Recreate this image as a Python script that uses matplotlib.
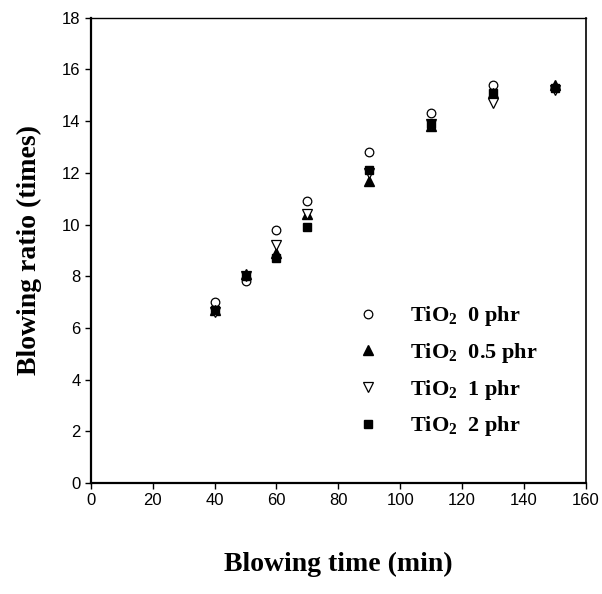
import matplotlib
matplotlib.use('Agg')
import matplotlib.pyplot as plt

# blowing time (min)
time = [40, 50, 60, 70, 90, 110, 130, 150]

# blowing ratio (times) for each TiO2 loading
tio2_0 = [7.0, 7.8, 9.8, 10.9, 12.8, 14.3, 15.4, 15.3]
tio2_05 = [6.7, 8.1, 8.9, 10.4, 11.7, 13.8, 15.1, 15.4]
tio2_1 = [6.6, 8.0, 9.2, 10.4, 12.0, 13.9, 14.7, 15.2]
tio2_2 = [6.7, 8.0, 8.7, 9.9, 12.1, 13.9, 15.1, 15.3]

labels = ['0 phr', '0.5 phr', '1 phr', '2 phr']

plt.rcParams['mathtext.fontset'] = 'custom'
plt.rcParams['mathtext.rm'] = 'Liberation Serif:bold'
plt.rcParams['mathtext.it'] = 'Liberation Serif:bold'
plt.rcParams['mathtext.bf'] = 'Liberation Serif:bold'

fig = plt.figure(figsize=(6.02, 5.94), dpi=100)
ax = fig.add_axes([0.151, 0.187, 0.822, 0.783])

ax.plot(time, tio2_0, 'o', mfc='white', mec='black', ms=6.2, mew=0.9,
        label='TiO$_2$  ' + labels[0])
ax.plot(time, tio2_05, '^', color='black', ms=6.8,
        label='TiO$_2$  ' + labels[1])
ax.plot(time, tio2_1, 'v', mfc='white', mec='black', ms=6.8, mew=0.9,
        label='TiO$_2$  ' + labels[2])
ax.plot(time, tio2_2, 's', color='black', ms=5.8,
        label='TiO$_2$  ' + labels[3])

ax.set_xlim(0, 160)
ax.set_ylim(0, 18)
ax.set_xticks(range(0, 161, 20))
ax.set_yticks(range(0, 19, 2))
ax.tick_params(direction='out', length=4, width=1, labelsize=12)
for lab in ax.get_xticklabels() + ax.get_yticklabels():
    lab.set_family('Liberation Sans')
ax.spines['left'].set_linewidth(1.6)
ax.spines['bottom'].set_linewidth(1.6)
ax.spines['top'].set_linewidth(1.0)
ax.spines['right'].set_linewidth(1.2)

ax.set_xlabel('Blowing time (min)', family='Liberation Serif', weight='bold',
              fontsize=20, labelpad=31)
ax.set_ylabel('Blowing ratio (times)', family='Liberation Serif', weight='bold',
              fontsize=20, labelpad=14)

leg = ax.legend(loc='upper left', bbox_to_anchor=(0.498, 0.427), frameon=False,
                handletextpad=1.35, labelspacing=0.57, handlelength=1.0,
                prop={'family': 'Liberation Serif', 'weight': 'bold', 'size': 16})

fig.savefig('out.png', dpi=100)
